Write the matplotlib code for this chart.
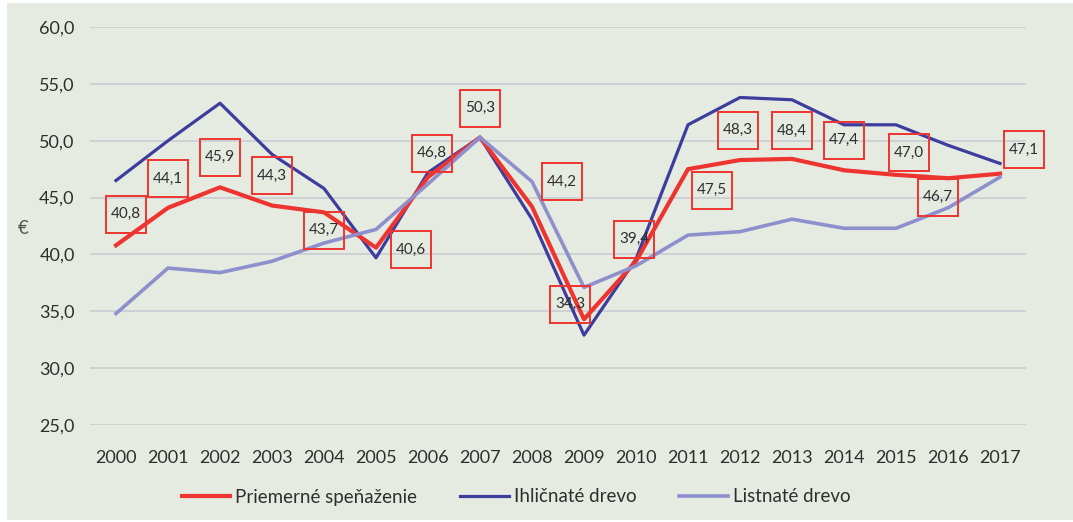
import matplotlib
matplotlib.use("Agg")
import matplotlib.pyplot as plt
from matplotlib.patches import Rectangle
from matplotlib.transforms import IdentityTransform

years = list(range(2000, 2018))
priemer = [40.8, 44.1, 45.9, 44.3, 43.7, 40.6, 46.8, 50.3, 44.2, 34.3,
           39.4, 47.5, 48.3, 48.4, 47.4, 47.0, 46.7, 47.1]
ihlicnate = [46.5, 50.0, 53.3, 48.8, 45.8, 39.7, 47.2, 50.3, 43.1, 32.9,
             39.6, 51.4, 53.8, 53.6, 51.4, 51.4, 49.6, 48.0]
listnate = [34.8, 38.8, 38.4, 39.4, 41.0, 42.2, 46.2, 50.3, 46.4, 37.1,
            39.0, 41.7, 42.0, 43.1, 42.3, 42.3, 44.1, 46.8]
labels = [f"{v:.1f}".replace(".", ",") for v in priemer]

# label box offsets from the red point, in pixels (x right, y down)
label_offsets = [(10, -31), (0, -29), (0, -30), (0, -30), (0, 18), (35, 2),
                 (4, -24), (0, -29), (30, -25), (-14, -15), (-2, -22), (24, 21),
                 (-2, -30), (0, -28), (0, -30), (13, -22), (-10, 19), (24, -24)]

red = "#ee3430"
dark = "#3c3d9c"
light = "#8e8fcd"
bg = "#e6ebe2"
txt = "#2e2e2e"

plt.rcParams["font.family"] = ["Lato", "DejaVu Sans"]

W, H = 1073, 522
fig = plt.figure(figsize=(W / 100, H / 100), dpi=100)
fig.patch.set_facecolor("white")
fig.add_artist(Rectangle((7 / W, 2 / H), 1 - 7 / W, (H - 5) / H,
                         transform=fig.transFigure, facecolor=bg, edgecolor="none", zorder=0))

ax = fig.add_axes([90 / W, 97 / H, 936 / W, 398 / H])
ax.set_facecolor("none")
ax.set_xlim(1999.5, 2017.5)
ax.set_ylim(25, 60)
ax.set_yticks([25, 30, 35, 40, 45, 50, 55, 60])
ax.set_yticklabels([f"{t:.1f}".replace(".", ",") for t in ax.get_yticks()])
ax.set_xticks(years)
ax.set_xticklabels([str(y) for y in years])
ax.grid(axis="y", color="#c8ccd0", linewidth=1.2)
ax.set_axisbelow(True)
for s in ax.spines.values():
    s.set_visible(False)
ax.tick_params(axis="both", length=0, labelsize=13, labelcolor=txt)
ax.tick_params(axis="x", pad=18)
ax.tick_params(axis="y", pad=11)

ax.plot(years, ihlicnate, color=dark, lw=2.3, label="Ihličnaté drevo", zorder=3)
ax.plot(years, priemer, color=red, lw=3.0, label="Priemerné speňaženie", zorder=4)
ax.plot(years, listnate, color=light, lw=2.6, label="Listnaté drevo", zorder=5)

fig.text(23 / W, 1 - 229 / H, "€", fontsize=13.5, color="#555555", ha="center", va="center")

# boxed labels for the red series
for x, v, lab, (dx, dy) in zip(years, priemer, labels, label_offsets):
    px, py = ax.transData.transform((x, v))
    cx, cy = px + dx, py - dy
    fig.add_artist(Rectangle((cx - 20, cy - 18.5), 40, 37, transform=IdentityTransform(),
                             facecolor="none", edgecolor=red, lw=1.4, zorder=6))
    fig.text(cx, cy, lab, transform=IdentityTransform(), fontsize=11, color=txt,
             ha="center", va="center", zorder=7)

h, l = ax.get_legend_handles_labels()
order = [1, 0, 2]
leg = fig.legend([h[i] for i in order], [l[i] for i in order], loc="center",
                 bbox_to_anchor=(516 / W, 1 - 497 / H), ncol=3, frameon=False,
                 fontsize=13.5, handlelength=2.6, handletextpad=0.25, columnspacing=2.3)
for t in leg.get_texts():
    t.set_color(txt)

fig.savefig("out.png", dpi=100, facecolor="white")
